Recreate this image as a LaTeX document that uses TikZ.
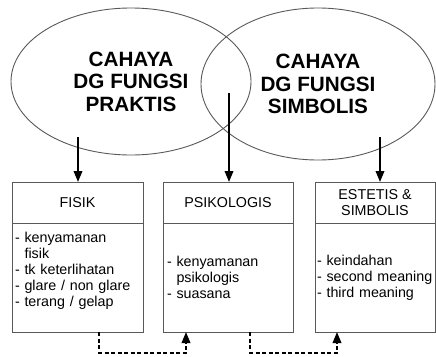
\documentclass[tikz,border=0pt]{standalone}
\usepackage{fontspec}
\setmainfont{Liberation Sans}
\usetikzlibrary{arrows.meta,positioning,shapes.geometric,calc}
\definecolor{garis}{gray}{0.35}
\tikzset{
  fungsi/.style   ={draw=garis,ellipse,line width=0.9pt,inner sep=0pt,outer sep=0pt,align=center,
                    font=\bfseries\fontsize{20.7}{22.5}\selectfont},
  judul/.style    ={draw=garis,line width=0.9pt,align=center,minimum height=41pt,inner sep=0pt,outer sep=0pt,
                    font=\fontsize{14.3}{16.5}\selectfont},
  isi/.style      ={draw=garis,line width=0.9pt,align=left,minimum height=109pt,inner ysep=0pt,outer sep=0pt,
                    font=\fontsize{14.3}{16.2}\selectfont},
  arrow/.style    ={-{Triangle[length=11pt,width=8.5pt]},line width=2pt},
  dasharrow/.style={arrow,dash pattern=on 4pt off 2.5pt}
}
\begin{document}
\begin{tikzpicture}[x=1pt,y=-1pt]
    \useasboundingbox (0,0) rectangle (436,356);
    \node[fungsi,minimum width=240pt,minimum height=147pt] (praktis) at (131,81.5) {CAHAYA\\DG FUNGSI\\PRAKTIS};
    \node[fungsi,minimum width=234pt,minimum height=152pt] (simbolis) at (318,84) {CAHAYA\\DG FUNGSI\\SIMBOLIS};
    \node[judul,minimum width=131pt,anchor=north west] (fisik) at (12,182) {FISIK};
    \node[judul,minimum width=130pt,right=20pt of fisik] (psikologis) {PSIKOLOGIS};
    \node[judul,minimum width=120pt,right=22pt of psikologis] (estetis) {ESTETIS \&\\SIMBOLIS};
    \node[isi,below=0pt of fisik,text width=125pt,inner xsep=3pt] (fisikisi)
      {- kenyamanan\\\phantom{- }fisik\\- tk keterlihatan\\- glare / non glare\\- terang / gelap\\~};
    \node[isi,below=0pt of psikologis,text width=122pt,inner xsep=4pt] (psikologisisi)
      {- kenyamanan\\\phantom{- }psikologis\\- suasana};
    \node[isi,below=0pt of estetis,text width=116pt,inner xsep=2pt] (estetisisi)
      {- keindahan\\\mbox{- second meaning}\\- third meaning};
    \coordinate (p1) at (78,137);
    \coordinate (p2) at (229,93);
    \coordinate (p3) at (380,137);
    \draw[arrow] (p1) -- (p1 |- fisik.north);
    \draw[arrow] (p2) -- (p2 |- psikologis.north);
    \draw[arrow] (p3) -- (p3 |- estetis.north);
    \draw[dasharrow] ([xshift=21.5pt]fisikisi.south) -- ++(0,20.5) -| ([xshift=-42pt]psikologisisi.south);
    \draw[dasharrow] ([xshift=22pt]psikologisisi.south) -- ++(0,20.5) -| ([xshift=-38pt]estetisisi.south);
  \end{tikzpicture}
\end{document}
